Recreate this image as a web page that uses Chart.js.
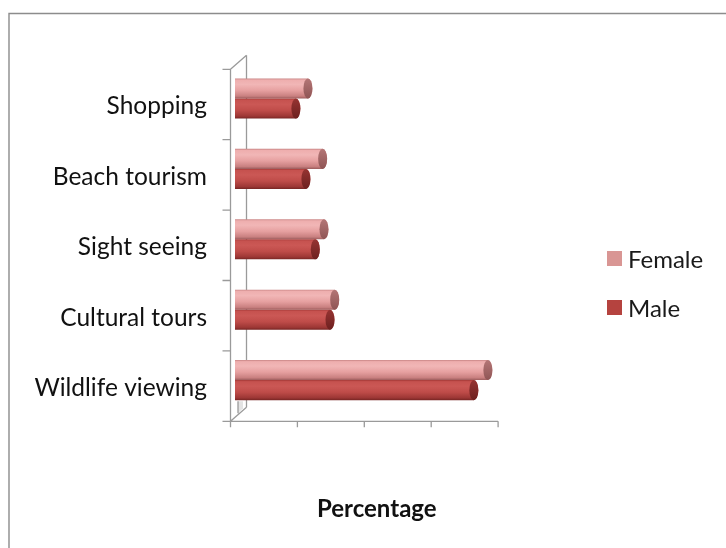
<!DOCTYPE html>
<html>
<head>
<meta charset="utf-8">
<script src="https://cdn.jsdelivr.net/npm/chart.js@4/dist/chart.umd.min.js"></script>
<style>
  html, body { margin: 0; padding: 0; background: #fff; }
  #wrap { position: relative; width: 726px; height: 548px; overflow: hidden; }
  #legend { position: absolute; left: 607px; top: 246px; font-family: Lato, sans-serif; font-size: 24px; color: #1a1a1a; }
  #legend div { display: flex; align-items: center; height: 25px; margin-bottom: 24px; }
  #legend span.sw { display: inline-block; width: 15px; height: 15px; margin-right: 6px; }
</style>
</head>
<body>
<div id="wrap">
  <canvas id="chart" width="726" height="548"></canvas>
  <div id="legend"></div>
</div>
<script>
const categories = ["Shopping", "Beach tourism", "Sight seeing", "Cultural tours", "Wildlife viewing"];
const female = [10.9, 13.1, 13.3, 14.9, 37.8];
const male = [9.1, 10.6, 12.0, 14.2, 35.7];
const xTicks = [0, 10, 20, 30, 40];

// cylinder shading, top to bottom
const shades = {
  Female: { body: ["#c88484", "#eeaeae", "#f1b6b6", "#e6a0a0", "#c98080", "#9c5c5c"], cap: ["#b47676", "#8f5555"], key: "#d99694" },
  Male: { body: ["#a63a38", "#c6524f", "#cb5855", "#bf4c49", "#9d3735", "#772523"], cap: ["#963432", "#6d201f"], key: "#b5433f" }
};
const stops = [0, 0.08, 0.3, 0.6, 0.88, 1];

// 3D projection offsets of the front and back planes
const front = { dx: -4.5, dy: 6 };
const back = { dx: 11.5, dy: -8 };

const frame3d = {
  id: "frame3d",
  beforeDatasetsDraw(chart) {
    const ctx = chart.ctx;
    const { left, right, top, bottom } = chart.chartArea;
    const xs = chart.scales.x, ys = chart.scales.y;

    ctx.save();
    // outer border
    ctx.strokeStyle = "#8c8c8c";
    ctx.lineWidth = 1.4;
    ctx.beginPath();
    ctx.moveTo(9, 548);
    ctx.lineTo(9, 13.5);
    ctx.lineTo(726, 13.5);
    ctx.stroke();

    ctx.strokeStyle = "#9a9a9a";
    ctx.lineWidth = 1.3;
    const fx = left + front.dx;
    const bx = left + back.dx;

    // wall shading near the floor
    ctx.fillStyle = "#e3e3e3";
    ctx.beginPath();
    ctx.moveTo(left + 3, bottom - 14);
    ctx.lineTo(left + 8, bottom - 14);
    ctx.lineTo(left + 8, bottom - 7);
    ctx.lineTo(left + 3, bottom - 2);
    ctx.closePath();
    ctx.fill();

    ctx.beginPath();
    // front vertical axis
    ctx.moveTo(fx, top + front.dy);
    ctx.lineTo(fx, bottom + front.dy + 6);
    // back vertical axis
    ctx.moveTo(bx, top + back.dy);
    ctx.lineTo(bx, bottom + back.dy);
    // depth edges
    ctx.moveTo(fx, top + front.dy);
    ctx.lineTo(bx, top + back.dy);
    ctx.moveTo(fx, bottom + front.dy);
    ctx.lineTo(bx, bottom + back.dy);
    ctx.moveTo(left + 3, bottom - 14);
    ctx.lineTo(left + 3, bottom - 2);
    // category ticks
    for (let i = 0; i <= categories.length; i++) {
      const y = ys.getPixelForValue(i - 0.5) + front.dy;
      ctx.moveTo(fx - 8, y);
      ctx.lineTo(fx, y);
    }
    // value axis and ticks
    ctx.moveTo(fx, bottom + front.dy);
    ctx.lineTo(xs.getPixelForValue(xTicks[xTicks.length - 1]) + front.dx, bottom + front.dy);
    xTicks.forEach(v => {
      const x = xs.getPixelForValue(v) + front.dx;
      ctx.moveTo(x, bottom + front.dy);
      ctx.lineTo(x, bottom + front.dy + 6);
    });
    ctx.stroke();

    // axis title
    ctx.fillStyle = "#111";
    ctx.font = "bold 24px Lato, sans-serif";
    ctx.textAlign = "center";
    ctx.textBaseline = "alphabetic";
    ctx.fillText("Percentage", (left + right) / 2 + 8, 517);
    ctx.restore();
  },
  afterDatasetsDraw(chart) {
    const ctx = chart.ctx;
    chart.data.datasets.forEach((ds, di) => {
      const meta = chart.getDatasetMeta(di);
      const sh = shades[ds.label];
      meta.data.forEach(bar => {
        const { x, y, base, height } = bar.getProps(["x", "y", "base", "height"], true);
        const t = y - height / 2, h = height;
        const rx = 4.5;
        ctx.save();
        // body with rounded far end
        const g = ctx.createLinearGradient(0, t, 0, t + h);
        sh.body.forEach((c, k) => g.addColorStop(stops[k], c));
        ctx.fillStyle = g;
        ctx.beginPath();
        ctx.moveTo(base, t);
        ctx.lineTo(x, t);
        ctx.ellipse(x, y, rx, h / 2, 0, -Math.PI / 2, Math.PI / 2, false);
        ctx.lineTo(base, t + h);
        ctx.closePath();
        ctx.fill();
        // end cap
        const gc = ctx.createLinearGradient(0, t, 0, t + h);
        gc.addColorStop(0, sh.cap[0]);
        gc.addColorStop(1, sh.cap[1]);
        ctx.fillStyle = gc;
        ctx.beginPath();
        ctx.ellipse(x, y, rx, h / 2, 0, 0, Math.PI * 2);
        ctx.fill();
        ctx.restore();
      });
    });
  }
};

new Chart(document.getElementById("chart"), {
  type: "bar",
  data: {
    labels: categories,
    datasets: [
      { label: "Female", data: female, backgroundColor: "rgba(0,0,0,0)" },
      { label: "Male", data: male, backgroundColor: "rgba(0,0,0,0)" }
    ]
  },
  options: {
    indexAxis: "y",
    responsive: false,
    animation: false,
    events: [],
    layout: { padding: { left: 0, top: 63.3, right: 223.4, bottom: 132.7 } },
    datasets: { bar: { barPercentage: 1, categoryPercentage: 0.57 } },
    scales: {
      x: { min: 0, max: 40, display: false },
      y: {
        afterFit: s => { s.width = 235; },
        grid: { display: false },
        border: { display: false },
        ticks: { color: "#111", padding: 20, labelOffset: 8, font: { family: "Lato, sans-serif", size: 24.5 } }
      }
    },
    plugins: { legend: { display: false }, tooltip: { enabled: false } }
  },
  plugins: [frame3d]
});

// legend
const legend = document.getElementById("legend");
["Female", "Male"].forEach(name => {
  const row = document.createElement("div");
  row.innerHTML = '<span class="sw" style="background:' + shades[name].key + '"></span>' + name;
  legend.appendChild(row);
});
</script>
</body>
</html>
